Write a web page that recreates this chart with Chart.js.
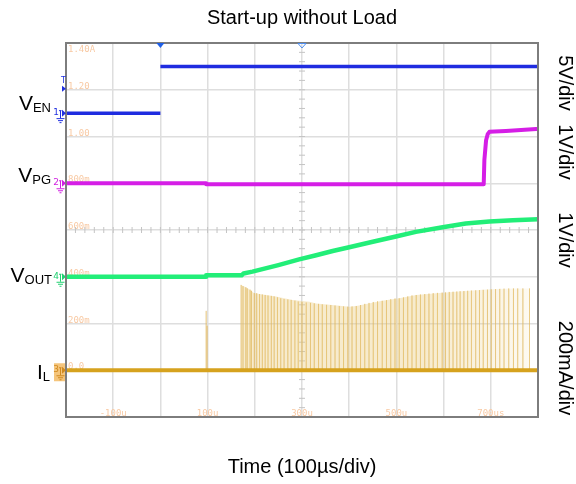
<!DOCTYPE html>
<html lang="en">
<head>
<meta charset="utf-8">
<title>Start-up without Load</title>
<script src="https://cdn.jsdelivr.net/npm/chart.js@4.4.1/dist/chart.umd.min.js"></script>
<style>
  html, body { margin: 0; padding: 0; background: #fff; }
  .chart-box { width: 576px; height: 484px; }
</style>
</head>
<body>
<div class="chart-box"><canvas id="scope-chart" width="576" height="484"></canvas></div>
<script>
// Scope grid labels (faint orange text inside the screen)
const timeTickValues = [-100, 100, 300, 500, 700];
const timeTickLabels = ['-100u', '100u', '300u', '500u', '700us'];
const levelTickLabels = ['1.40A', '1.20', '1.00', '800m', '600m', '400m', '200m', '0.0'];

// Channel 1 - VEN (V), time in µs
const venTime = [-200, 0, 0, 0, 800];
const venVolt = [0, 0, null, 5, 5];

// Channel 2 - VPG (V)
const vpgTime = [-200, 97, 97, 685, 686.4, 690, 693.4, 697, 732, 796, 800];
const vpgVolt = [0, 0, -0.02, -0.02, 0.5, 0.92, 1.05, 1.1, 1.12, 1.16, 1.16];

// Channel 4 - VOUT (V)
const voutTime = [-200, 97, 97, 172, 176, 195, 250, 294, 330, 365, 400, 450, 499, 541, 598, 647, 697, 747, 800];
const voutVolt = [0, 0, 0.03, 0.03, 0.07, 0.11, 0.25, 0.37, 0.46, 0.55, 0.63, 0.75, 0.86, 0.96, 1.06, 1.14, 1.18, 1.21, 1.23];

// Channel 3 - IL (A): switching pulses and their envelope
const ilSpikeTime = [97, 99, 171, 175, 181, 184, 190, 193, 199, 204, 210, 216, 222, 228, 235, 241, 248, 255, 262, 270, 277,
  285, 292, 300, 309, 318, 326, 335, 343, 352, 361, 370, 379, 388, 397, 406, 415, 424, 433, 442, 451, 460, 470, 479,
  488, 497, 506, 515, 524, 533, 542, 551, 560, 569, 578, 587, 597, 604, 612, 620, 628, 635, 643, 651, 659, 668, 676,
  684, 693, 701, 710, 719, 728, 738, 748, 757, 768, 782];
const ilSpikeAmp = [0.254, 0.19, 0.365, 0.36, 0.355, 0.35, 0.345, 0.34, 0.33, 0.33, 0.326, 0.324, 0.322, 0.32, 0.318, 0.316,
  0.312, 0.308, 0.305, 0.303, 0.301, 0.298, 0.294, 0.292, 0.29, 0.288, 0.286, 0.284, 0.282, 0.28, 0.279, 0.277, 0.275,
  0.273, 0.272, 0.273, 0.275, 0.279, 0.284, 0.288, 0.292, 0.295, 0.297, 0.3, 0.304, 0.307, 0.308, 0.312, 0.316, 0.32,
  0.322, 0.324, 0.326, 0.328, 0.33, 0.331, 0.332, 0.333, 0.335, 0.336, 0.337, 0.338, 0.339, 0.34, 0.341, 0.342, 0.343,
  0.344, 0.345, 0.346, 0.347, 0.348, 0.349, 0.35, 0.35, 0.35, 0.35, 0.35];
const ilEnvTime = [171, 185, 199, 210, 245, 280, 316, 330, 364, 400, 415, 470, 506, 542, 597, 648, 697, 746, 782];
const ilEnvAmp = [0.365, 0.351, 0.329, 0.326, 0.315, 0.301, 0.293, 0.286, 0.279, 0.272, 0.275, 0.297, 0.308, 0.322, 0.332, 0.339, 0.346, 0.35, 0.35];

// Channel offset (divisions from bottom) and scale per division
const chEN = { offset: 6.5, perDiv: 5 };
const chPG = { offset: 5, perDiv: 1 };
const chOUT = { offset: 3, perDiv: 1 };
const chIL = { offset: 1, perDiv: 0.2 };

const FONT = '"Liberation Sans", Arial, sans-serif';

function toDiv(ch, v) {
    return v === null ? null : ch.offset + v / ch.perDiv;
}

function trace(ch, times, values) {
    return times.map((t, i) => ({ x: t, y: toDiv(ch, values[i]) }));
}

function spikes(ch, times, values) {
    const pts = [];
    times.forEach((t, i) => {
        pts.push({ x: t, y: ch.offset }, { x: t, y: toDiv(ch, values[i]) }, { x: t, y: ch.offset });
    });
    return pts;
}

// Big channel names with subscripts on the left
function drawSubLabel(ctx, main, sub, rightX, baseY) {
    ctx.font = '21px ' + FONT;
    const wMain = ctx.measureText(main).width;
    ctx.font = '13px ' + FONT;
    const wSub = ctx.measureText(sub).width;
    const x0 = rightX - wMain - wSub;
    ctx.font = '21px ' + FONT;
    ctx.fillText(main, x0, baseY);
    ctx.font = '13px ' + FONT;
    ctx.fillText(sub, x0 + wMain, baseY + 2);
}

// Channel tag on the left edge of the screen: number, ground symbol and arrow
function drawChannelTag(ctx, label, py, color, boxed) {
    const ax = 66;
    if (boxed) {
        ctx.fillStyle = '#f5c57c';
        ctx.fillRect(54, py - 7, 11, 18);
    }
    ctx.fillStyle = color;
    ctx.strokeStyle = color;
    ctx.beginPath();
    ctx.moveTo(ax - 4, py - 3.5);
    ctx.lineTo(ax, py);
    ctx.lineTo(ax - 4, py + 3.5);
    ctx.closePath();
    ctx.fill();

    ctx.font = '9px "DejaVu Sans", sans-serif';
    ctx.textAlign = 'right';
    ctx.textBaseline = 'alphabetic';
    ctx.fillText(label, 59, py + 2);

    ctx.lineWidth = 1;
    ctx.beginPath();
    ctx.moveTo(59, py - 2.5); ctx.lineTo(61.5, py - 2.5);
    ctx.moveTo(60.5, py - 2.5); ctx.lineTo(60.5, py + 5);
    ctx.moveTo(56.5, py + 5.5); ctx.lineTo(64.5, py + 5.5);
    ctx.moveTo(58, py + 7.5); ctx.lineTo(63, py + 7.5);
    ctx.moveTo(59.5, py + 9.5); ctx.lineTo(61.5, py + 9.5);
    ctx.stroke();
}

const scopeDecor = {
    id: 'scopeDecor',
    beforeDatasetsDraw(chart) {
        const { ctx, chartArea: a, scales: { x, y } } = chart;
        ctx.save();
        ctx.font = '9px "DejaVu Sans Mono", monospace';
        ctx.fillStyle = '#f8c9a3';
        ctx.textAlign = 'left';
        ctx.textBaseline = 'alphabetic';
        levelTickLabels.forEach((t, i) => {
            const py = y.getPixelForValue(8 - i);
            ctx.fillText(t, a.left + 2, i === 0 ? py + 8.5 : py - 1);
        });
        ctx.textAlign = 'center';
        timeTickValues.forEach((v, i) => {
            ctx.fillText(timeTickLabels[i], x.getPixelForValue(v), a.bottom - 1);
        });

        // minor ticks on the centre cross
        const cx = x.getPixelForValue(300);
        const cy = y.getPixelForValue(4);
        ctx.strokeStyle = '#c4c4c4';
        ctx.lineWidth = 1;
        ctx.beginPath();
        for (let d = 0.2; d < 8; d += 0.2) {
            const py = y.getPixelForValue(d);
            ctx.moveTo(cx - 3, py); ctx.lineTo(cx + 3, py);
        }
        for (let t = -180; t < 800; t += 20) {
            const px = x.getPixelForValue(t);
            ctx.moveTo(px, cy - 3); ctx.lineTo(px, cy + 3);
        }
        ctx.stroke();
        ctx.restore();
    },
    afterDatasetsDraw(chart) {
        const { ctx, chartArea: a, scales: { x, y } } = chart;
        ctx.save();
        // screen frame
        ctx.strokeStyle = '#7d7d7d';
        ctx.lineWidth = 2;
        ctx.strokeRect(a.left, a.top, a.right - a.left, a.bottom - a.top);

        // trigger position markers on top
        const tx = x.getPixelForValue(0);
        ctx.fillStyle = '#1e5fe8';
        ctx.beginPath();
        ctx.moveTo(tx - 4, a.top); ctx.lineTo(tx + 4, a.top); ctx.lineTo(tx, a.top + 5);
        ctx.closePath(); ctx.fill();
        const hx = x.getPixelForValue(300);
        ctx.strokeStyle = '#4f8ff0';
        ctx.lineWidth = 1;
        ctx.beginPath();
        ctx.moveTo(hx - 4, a.top + 0.5); ctx.lineTo(hx + 4, a.top + 0.5); ctx.lineTo(hx, a.top + 5);
        ctx.closePath(); ctx.stroke();

        // trigger level marker
        const ty = y.getPixelForValue(7) - 1;
        ctx.fillStyle = '#2030e0';
        ctx.beginPath();
        ctx.moveTo(a.left - 4, ty - 3); ctx.lineTo(a.left, ty); ctx.lineTo(a.left - 4, ty + 3);
        ctx.closePath(); ctx.fill();
        ctx.font = '8px "DejaVu Sans", sans-serif';
        ctx.textAlign = 'left';
        ctx.fillText('T', a.left - 5, ty - 6);

        drawChannelTag(ctx, '1', y.getPixelForValue(chEN.offset), '#2030e0', false);
        drawChannelTag(ctx, '2', y.getPixelForValue(chPG.offset), '#d020e0', false);
        drawChannelTag(ctx, '4', y.getPixelForValue(chOUT.offset), '#20d070', false);
        drawChannelTag(ctx, '3', y.getPixelForValue(chIL.offset), '#d08a20', true);
        ctx.restore();
    },
    afterDraw(chart) {
        const { ctx } = chart;
        ctx.save();
        ctx.fillStyle = '#000';
        ctx.textAlign = 'left';
        ctx.textBaseline = 'alphabetic';
        drawSubLabel(ctx, 'V', 'EN', 51, 110);
        drawSubLabel(ctx, 'V', 'PG', 51, 182);
        drawSubLabel(ctx, 'V', 'OUT', 52, 282);
        drawSubLabel(ctx, 'I', 'L', 50, 379);

        // volts/div labels, rotated
        ctx.font = '20px ' + FONT;
        ctx.textAlign = 'center';
        ctx.textBaseline = 'middle';
        [['5V/div', 83], ['1V/div', 152], ['1V/div', 240], ['200mA/div', 368]].forEach(([txt, cy]) => {
            ctx.save();
            ctx.translate(565, cy);
            ctx.rotate(Math.PI / 2);
            ctx.fillText(txt, 0, 0);
            ctx.restore();
        });
        ctx.restore();
    }
};

document.addEventListener('DOMContentLoaded', function() {
    const ctx = document.getElementById('scope-chart').getContext('2d');
    new Chart(ctx, {
        type: 'line',
        data: {
            datasets: [
                {
                    label: 'VEN',
                    data: trace(chEN, venTime, venVolt),
                    borderColor: '#1f2ce0',
                    borderWidth: 3.5,
                    spanGaps: false,
                    order: 0
                },
                {
                    label: 'VPG',
                    data: trace(chPG, vpgTime, vpgVolt),
                    borderColor: '#d51ee6',
                    borderWidth: 4,
                    order: 1
                },
                {
                    label: 'VOUT',
                    data: trace(chOUT, voutTime, voutVolt),
                    borderColor: '#22ee78',
                    borderWidth: 4.5,
                    order: 2
                },
                {
                    label: 'IL',
                    data: trace(chIL, [-200, 800], [0, 0]),
                    borderColor: '#d6a21e',
                    borderWidth: 4,
                    order: 3
                },
                {
                    label: 'IL pulses',
                    data: spikes(chIL, ilSpikeTime, ilSpikeAmp),
                    borderColor: 'rgba(226, 186, 96, 0.5)',
                    borderWidth: 1,
                    order: 4
                },
                {
                    label: 'IL envelope',
                    data: trace(chIL, ilEnvTime, ilEnvAmp),
                    borderWidth: 0,
                    borderColor: 'rgba(0,0,0,0)',
                    fill: { value: chIL.offset },
                    backgroundColor: function(context) {
                        const chart = context.chart;
                        if (!chart.chartArea) return 'rgba(235, 205, 130, 0.35)';
                        const xs = chart.scales.x;
                        const g = chart.ctx.createLinearGradient(xs.getPixelForValue(560), 0, xs.getPixelForValue(790), 0);
                        g.addColorStop(0, 'rgba(235, 205, 130, 0.4)');
                        g.addColorStop(1, 'rgba(235, 205, 130, 0.1)');
                        return g;
                    },
                    order: 5
                }
            ]
        },
        options: {
            responsive: false,
            animation: false,
            events: [],
            elements: {
                point: { radius: 0 },
                line: { tension: 0, borderJoinStyle: 'round' }
            },
            layout: {
                padding: { left: 66, right: 38, top: 0, bottom: 0 }
            },
            plugins: {
                legend: { display: false },
                tooltip: { enabled: false },
                title: {
                    display: true,
                    text: 'Start-up without Load',
                    color: '#000',
                    font: { family: FONT, size: 20, weight: 'normal' },
                    padding: { top: 6, bottom: 13 }
                }
            },
            scales: {
                x: {
                    type: 'linear',
                    min: -200,
                    max: 800,
                    ticks: { display: false, stepSize: 100 },
                    grid: { color: '#dedede', lineWidth: 1.5, drawTicks: false },
                    border: { display: false },
                    title: {
                        display: true,
                        text: 'Time (100µs/div)',
                        color: '#000',
                        font: { family: FONT, size: 20 },
                        padding: { top: 38, bottom: 5 }
                    }
                },
                y: {
                    type: 'linear',
                    min: 0,
                    max: 8,
                    ticks: { display: false, stepSize: 1 },
                    grid: { color: '#dedede', lineWidth: 1.5, drawTicks: false },
                    border: { display: false }
                }
            }
        },
        plugins: [scopeDecor]
    });
});
</script>
</body>
</html>
